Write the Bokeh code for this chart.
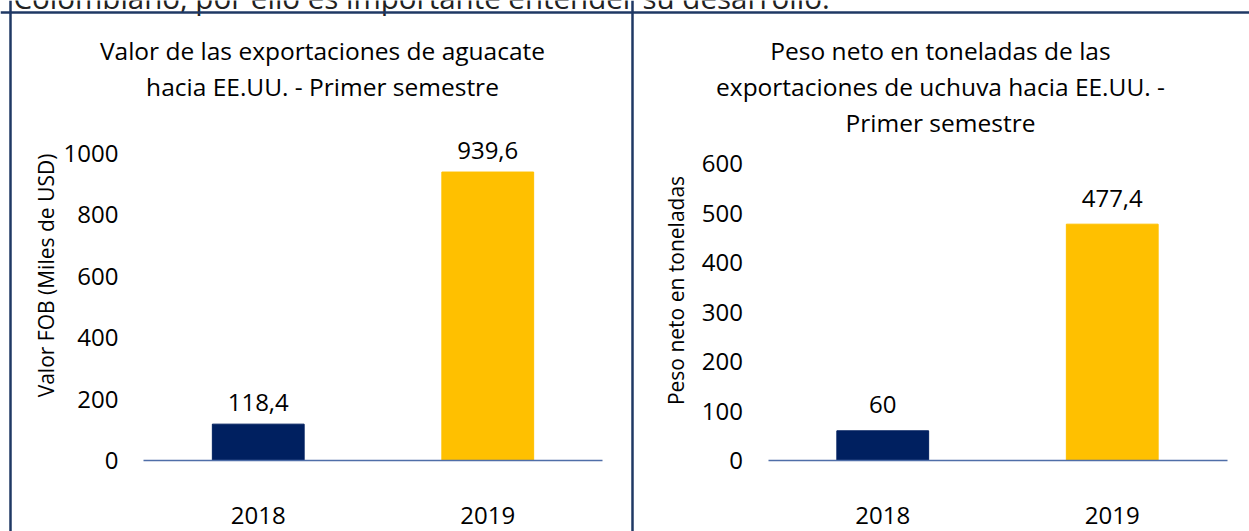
import math
from bokeh.plotting import figure
from bokeh.models import (Range1d, LinearAxis, FixedTicker, ColumnDataSource,
                          LabelSet, Label, Span)
from bokeh.embed import file_html
from bokeh.resources import INLINE
from bokeh.core.properties import value

# ---------------- data ----------------
years = ["2018", "2019"]
aguacate_fob = [118.4, 939.6]        # Valor FOB (miles de USD)
uchuva_ton = [60.0, 477.4]           # Peso neto (toneladas)
bar_colors = ["#002060", "#FFC000"]
left_yticks = [0, 200, 400, 600, 800, 1000]
right_yticks = [0, 100, 200, 300, 400, 500, 600]
left_title = ["Valor de las exportaciones de aguacate",
              "hacia EE.UU. - Primer semestre"]
right_title = ["Peso neto en toneladas de las",
               "exportaciones de uchuva hacia EE.UU. -",
               "Primer semestre"]
left_ylabel = "Valor FOB (Miles de USD)"
right_ylabel = "Peso neto en toneladas"
page_text = "Colombiano, por ello es importante entender su desarrollo."

# ---------------- layout (pixels) ----------------
W, H = 1249, 531
SLOT = 229.5          # width of one category slot
L_X0 = 143            # left plot area start (canvas px)
R_X0 = 767.5          # right plot area start (canvas px)
BASE = 460            # canvas y of value 0
L_PX = 0.307          # px per unit, left panel
R_PX = 0.495          # px per unit, right panel
FONT = "Open Sans"
TXT = "#000000"
BORDER = "#1F3864"
AXIS = "#4F6EA8"


def lx(px):
    return 0.5 + (px - L_X0) / SLOT


def rx(px):
    return 0.5 + (px - R_X0) / SLOT


def ly(py):
    return (BASE - py) / L_PX


p = figure(width=W, height=H, output_backend="svg", toolbar_location=None,
           x_axis_location=None, y_axis_location=None,
           x_range=Range1d(0.5 - L_X0 / SLOT, 0.5 + (W - L_X0) / SLOT),
           y_range=Range1d((BASE - H) / L_PX, BASE / L_PX),
           min_border=0, outline_line_color=None)
p.extra_x_ranges = {"r": Range1d(0.5 - R_X0 / SLOT, 0.5 + (W - R_X0) / SLOT)}
p.extra_y_ranges = {"r": Range1d((BASE - H) / R_PX, BASE / R_PX)}
p.xgrid.visible = False
p.ygrid.visible = False
p.background_fill_color = "white"
p.border_fill_color = "white"

# fragment of the surrounding page text, cut at the top as in the source image
p.add_layout(Label(x=lx(13), y=ly(-3), text=page_text, text_align="left",
                   text_baseline="alphabetic", text_font=FONT,
                   text_font_size="29.5px", text_color="#222222"))

fmt = lambda v: f"{v:g}".replace(".", ",")
xs = [i + 1 for i in range(len(years))]

src_l = ColumnDataSource(dict(x=xs, top=aguacate_fob, color=bar_colors,
                              label=[fmt(v) for v in aguacate_fob]))
src_r = ColumnDataSource(dict(x=xs, top=uchuva_ton, color=bar_colors,
                              label=[fmt(v) for v in uchuva_ton]))

p.vbar(x="x", top="top", bottom=0, width=0.4, color="color", source=src_l)
p.vbar(x="x", top="top", bottom=0, width=0.4, color="color", source=src_r,
       x_range_name="r", y_range_name="r")

for src, xr, yr, off in [(src_l, "default", "default", 22), (src_r, "r", "r", 26)]:
    p.add_layout(LabelSet(x="x", y="top", text="label", source=src,
                          x_range_name=xr, y_range_name=yr,
                          text_align="center", text_baseline="middle",
                          y_offset=off, text_font=value(FONT),
                          text_font_size="24px", text_color=TXT))

overrides = {x: y for x, y in zip(xs, years)}


def style_axis(ax):
    ax.major_label_text_font = FONT
    ax.major_label_text_font_size = "24px"
    ax.major_label_text_color = TXT
    ax.major_tick_line_color = None
    ax.minor_tick_line_color = None
    ax.major_tick_out = 0
    ax.major_tick_in = 0


for xr, yr in [("default", "default"), ("r", "r")]:
    xa = LinearAxis(fixed_location=0, x_range_name=xr, y_range_name=yr,
                    ticker=FixedTicker(ticks=xs), major_label_overrides=overrides,
                    bounds=(0.5, len(xs) + 0.5), axis_line_color=AXIS,
                    axis_line_width=1.5, major_label_standoff=46)
    style_axis(xa)
    p.add_layout(xa, "below")

ya_l = LinearAxis(fixed_location=0.5, ticker=FixedTicker(ticks=left_yticks),
                  bounds=(0, 1000), axis_line_color=None, major_label_standoff=25)
style_axis(ya_l)
p.add_layout(ya_l, "left")
ya_r = LinearAxis(fixed_location=0.5, x_range_name="r", y_range_name="r",
                  ticker=FixedTicker(ticks=right_yticks), bounds=(0, 600),
                  axis_line_color=None, major_label_standoff=25)
style_axis(ya_r)
p.add_layout(ya_r, "left")

# titles
for i, t in enumerate(left_title):
    p.add_layout(Label(x=lx(322), y=ly(50 + 36 * i), text=t, text_align="center",
                       text_baseline="middle", text_font=FONT,
                       text_font_size="24.5px", text_color=TXT))
for i, t in enumerate(right_title):
    p.add_layout(Label(x=rx(940), y=ly(50 + 36 * i), text=t, text_align="center",
                       text_baseline="middle", text_font=FONT,
                       text_font_size="24.5px", text_color=TXT, x_range_name="r"))

# y axis titles
p.add_layout(Label(x=lx(45), y=ly(275), text=left_ylabel, angle=math.pi / 2,
                   text_align="center", text_baseline="middle", text_font=FONT,
                   text_font_size="21px", text_color=TXT))
p.add_layout(Label(x=rx(675), y=ly(290), text=right_ylabel, angle=math.pi / 2,
                   text_align="center", text_baseline="middle", text_font=FONT,
                   text_font_size="21px", text_color=TXT, x_range_name="r"))

# panel borders
p.add_layout(Span(location=lx(10), dimension="height", line_color=BORDER, line_width=2.5))
p.add_layout(Span(location=lx(632), dimension="height", line_color=BORDER, line_width=2.5))
p.add_layout(Span(location=ly(12), dimension="width", line_color=BORDER, line_width=2.5))

open("out.html", "w").write(file_html(p, INLINE))
